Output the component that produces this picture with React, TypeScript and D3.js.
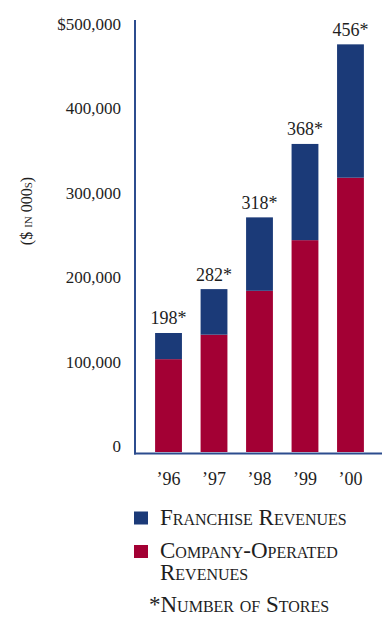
import React from "react";
import * as d3 from "d3";

// Revenue by fiscal year, in thousands of dollars
const years = ["’96", "’97", "’98", "’99", "’00"];
const companyOperated = [110000, 139000, 191000, 251000, 325000];
const franchise = [31000, 54000, 87000, 114000, 158000];
const storeCounts = ["198*", "282*", "318*", "368*", "456*"];
const yTicks = [0, 100000, 200000, 300000, 400000, 500000];

const BLUE = "#1b3a78";
const RED = "#a30034";
const AXIS = "#2c4c8e";
const INK = "#1e1e1e";
const FONT = "'Liberation Serif', 'Times New Roman', serif";

const W = 385;
const H = 620;

export default function App() {
  const x = d3
    .scaleBand<string>()
    .domain(years)
    .range([146, 373])
    .paddingInner(0.41)
    .paddingOuter(0.2);

  const y = d3.scaleLinear().domain([0, 500000]).range([452, 30]);

  const rows = years.map((yr, i) => ({
    year: yr,
    company: companyOperated[i],
    franchise: franchise[i],
  }));
  const stacked = d3
    .stack<{ year: string; company: number; franchise: number }>()
    .keys(["company", "franchise"])(rows);
  const colors: Record<string, string> = { company: RED, franchise: BLUE };

  const fmt = (v: number) => (v === 500000 ? "$" : "") + (v === 0 ? "0" : d3.format(",")(v));
  const smallCaps = { fontVariant: "small-caps" as const };

  return (
    <svg
      width={W}
      height={H}
      style={{ position: "absolute", left: 0, top: 0, background: "#fff" }}
      fontFamily={FONT}
    >
      {/* stacked bars */}
      {stacked.map((layer) => (
        <g key={layer.key} fill={colors[layer.key]}>
          {layer.map((d, i) => (
            <rect
              key={i}
              x={x(d.data.year)}
              y={y(d[1])}
              width={x.bandwidth()}
              height={y(d[0]) - y(d[1])}
            />
          ))}
        </g>
      ))}

      {/* store counts above each bar */}
      {rows.map((r, i) => (
        <text
          key={r.year}
          x={(x(r.year) as number) + x.bandwidth() / 2}
          y={y(r.company + r.franchise) - 8.5}
          textAnchor="middle"
          fontSize={18}
          fill={INK}
        >
          {storeCounts[i]}
        </text>
      ))}

      {/* axes */}
      <line x1={135} x2={135} y1={20} y2={454.5} stroke={AXIS} strokeWidth={2} />
      <line x1={134} x2={382} y1={453.5} y2={453.5} stroke={AXIS} strokeWidth={2} />

      {/* y tick labels */}
      {yTicks.map((t) => (
        <text key={t} x={121} y={y(t)} textAnchor="end" fontSize={17} fill={INK}>
          {fmt(t)}
        </text>
      ))}

      {/* x tick labels */}
      {years.map((yr) => (
        <text
          key={yr}
          x={(x(yr) as number) + x.bandwidth() / 2}
          y={485}
          textAnchor="middle"
          fontSize={18}
          fill={INK}
        >
          {yr}
        </text>
      ))}

      {/* y axis title */}
      <text
        transform="translate(32,211) rotate(-90)"
        textAnchor="middle"
        fontSize={16}
        fill={INK}
        style={smallCaps}
      >
        ($ in 000s)
      </text>

      {/* legend */}
      <rect x={134} y={511.5} width={14} height={13} fill={BLUE} />
      <text x={160} y={525} fontSize={23} fill={INK} style={smallCaps}>
        Franchise Revenues
      </text>
      <rect x={134} y={545} width={14} height={13} fill={RED} />
      <text x={160} y={558} fill={INK} style={smallCaps}>
        <tspan x={160} y={558} fontSize={23}>Company-Operated</tspan>
        <tspan x={160} y={579.5} fontSize={23}>Revenues</tspan>
      </text>
      <text x={149} y={612} fontSize={23} fill={INK} style={smallCaps}>
        *Number of Stores
      </text>
    </svg>
  );
}
